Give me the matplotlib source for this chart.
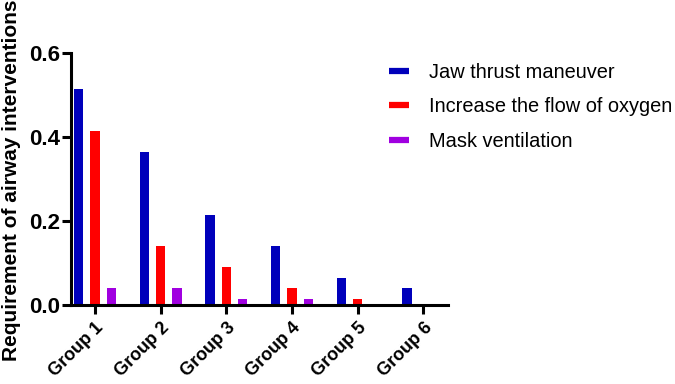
import matplotlib
matplotlib.use("Agg")
import matplotlib.pyplot as plt
import numpy as np
from matplotlib.lines import Line2D

groups = ["Group 1", "Group 2", "Group 3", "Group 4", "Group 5", "Group 6"]
series_names = ["Jaw thrust maneuver", "Increase the flow of oxygen", "Mask ventilation"]
jaw = [0.515, 0.365, 0.215, 0.14, 0.065, 0.04]
oxygen = [0.415, 0.14, 0.09, 0.04, 0.015, 0.0]
mask = [0.04, 0.04, 0.015, 0.015, 0.0, 0.0]
colors = ["#0000BB", "#FF0000", "#A000E0"]
yticks = [0.0, 0.2, 0.4, 0.6]

plt.rcParams['font.family'] = ['Liberation Sans', 'DejaVu Sans']

fig = plt.figure(figsize=(6.75, 3.84), dpi=100)
ax = fig.add_axes([0.1047, 0.2057, 0.5593, 0.6563])

x = np.arange(len(groups))
w = 0.14
off = 0.25
for i, (vals, name, c) in enumerate(zip([jaw, oxygen, mask], series_names, colors)):
    ax.bar(x + (i - 1) * off, vals, width=w, color=c, label=name, edgecolor='none')

ax.set_xlim(-0.37, 5.377)
ax.set_ylim(0, 0.6)
ax.set_yticks(yticks)
ax.set_yticklabels([f"{v:.1f}" for v in yticks], fontsize=16, fontweight='bold')
ax.set_xticks(x)
ax.set_xticklabels(groups, rotation=45, ha='right', rotation_mode='anchor',
                   fontsize=13, fontweight='bold')
for s in ['top', 'right']:
    ax.spines[s].set_visible(False)
for s in ['left', 'bottom']:
    ax.spines[s].set_linewidth(2.2)
ax.tick_params(axis='both', width=2.2, length=6.5, direction='out')
ax.tick_params(axis='y', pad=1)
ax.tick_params(axis='x', pad=4)
fig.text(12 / 675, 1 - 180 / 384, "Requirement of airway interventions",
         rotation=90, ha='center', va='center', fontsize=15, fontweight='bold')

handles = [Line2D([0], [0], color=c, lw=4.5, solid_capstyle='butt') for c in colors]
fig.legend(handles, series_names, loc='upper left', bbox_to_anchor=(389 / 675, 0.8365),
           frameon=False, fontsize=14.4, handlelength=1.0, handletextpad=1.0,
           labelspacing=0.78, borderpad=0, borderaxespad=0)

fig.savefig("out.png", dpi=100)
